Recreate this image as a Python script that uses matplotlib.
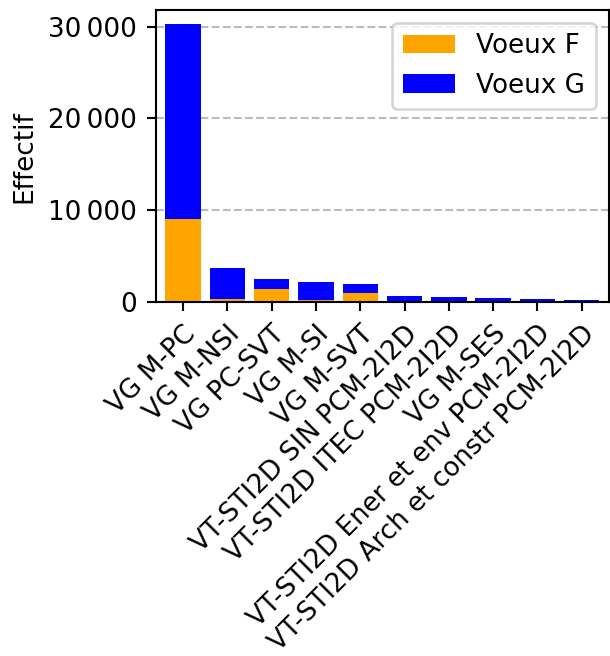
import matplotlib
matplotlib.use('Agg')
import matplotlib.pyplot as plt
from matplotlib.ticker import FuncFormatter

# Values
labels = ['VG M-PC', 'VG M-NSI', 'VG PC-SVT', 'VG M-SI', 'VG M-SVT',
          'VT-STI2D SIN PCM-2I2D', 'VT-STI2D ITEC PCM-2I2D', 'VG M-SES',
          'VT-STI2D Ener et env PCM-2I2D', 'VT-STI2D Arch et constr PCM-2I2D']
voeux_f = [9100, 400, 1480, 250, 1050, 40, 40, 60, 20, 20]
voeux_g = [21200, 3360, 1120, 1920, 970, 610, 540, 370, 300, 230]

dpi = 189
fig, ax = plt.subplots(figsize=(610 / dpi, 656 / dpi), dpi=dpi)
x = range(len(labels))
ax.bar(x, voeux_f, color='orange', label='Voeux F', zorder=2)
ax.bar(x, voeux_g, bottom=voeux_f, color='blue', label='Voeux G', zorder=2)

ax.set_xticks(list(x))
ax.set_xticklabels(labels, rotation=45, ha='right', rotation_mode='anchor')
ax.set_ylabel('Effectif')
ax.yaxis.set_major_formatter(FuncFormatter(lambda v, p: f'{int(v):,}'.replace(',', '\u202f')))
ax.set_yticks([0, 10000, 20000, 30000])
ax.set_xlim(-0.62, 9.61)
ax.grid(axis='y', linestyle='--', color='#bbbbbb', zorder=0)
ax.legend(loc='upper right')

fig.subplots_adjust(left=0.255, right=0.998, top=0.985, bottom=0.539)
fig.savefig('out.png', dpi=dpi)
